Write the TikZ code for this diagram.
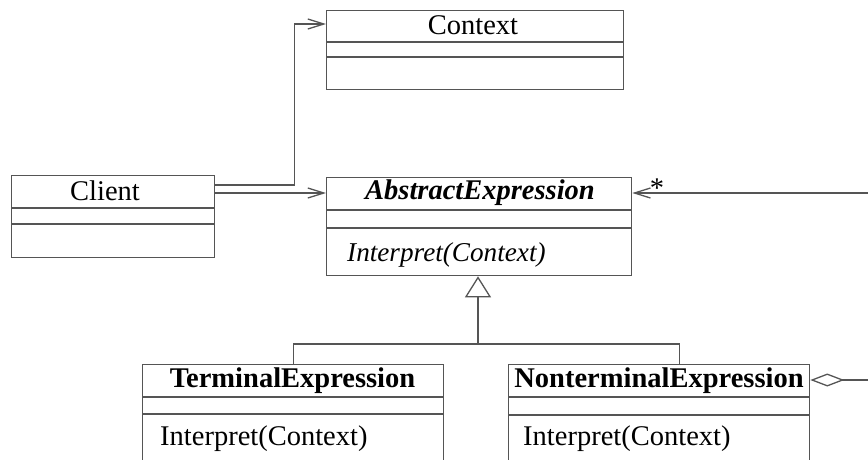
\documentclass[tikz,border=0pt]{standalone}
\usepackage{fontspec}
\setmainfont{Liberation Serif}
\usetikzlibrary{arrows.meta}
\definecolor{linegray}{HTML}{555555}
\begin{document}
\begin{tikzpicture}[x=1pt,y=-1pt,
  every node/.style={font=\fontsize{28.5}{31}\selectfont},
  classbox/.style={draw=linegray, line width=1.3pt, anchor=north west, inner sep=0pt},
  sep/.style={draw=linegray, line width=1.3pt},
  conn/.style={draw=linegray, line width=1.3pt},
  assoc/.style={conn, -{Straight Barb[length=16pt,width=10pt,line width=1.3pt]}},
  inherit/.style={conn, -{Triangle[open,length=21pt,width=26pt,line width=1.3pt]}},
  aggr/.style={conn, -{Diamond[open,length=34pt,width=13pt,line width=1.3pt]}},
  title/.style={anchor=center, inner sep=0pt},
  op/.style={anchor=base west, inner sep=0pt}
]
\useasboundingbox (0,0) rectangle (868,459);
\clip (0,0) rectangle (868,459);

% Context
\node[classbox, minimum width=297pt, minimum height=79pt] (ctx) at (326,10) {};
\draw[sep] (326,42) -- (623,42) (326,57) -- (623,57);
\node[title] (ctxT) at (473,25) {Context};

% Client
\node[classbox, minimum width=203pt, minimum height=82pt] (cli) at (11,175) {};
\draw[sep] (11,208) -- (214,208) (11,224) -- (214,224);
\node[title] (cliT) at (105,191) {Client};

% AbstractExpression
\node[classbox, minimum width=305pt, minimum height=98pt] (abs) at (326,177) {};
\draw[sep] (326,210) -- (631,210) (326,228) -- (631,228);
\node[title] (absT) at (480,193) {\bfseries\itshape AbstractExpression};
\node[op, font=\fontsize{27.2}{30}\selectfont\itshape] (absO) at (347,261) {Interpret(Context)};

% TerminalExpression
\node[classbox, minimum width=301pt, minimum height=120pt] (term) at (142,364) {};
\draw[sep] (142,397) -- (443,397) (142,414) -- (443,414);
\node[title] (termT) at (292.5,381) {\bfseries TerminalExpression};
\node[op] (termO) at (160,445) {Interpret(Context)};

% NonterminalExpression
\node[classbox, minimum width=301pt, minimum height=120pt] (nont) at (508,364) {};
\draw[sep] (508,397) -- (809,397) (508,415) -- (809,415);
\node[title] (nontT) at (659,381) {\bfseries NonterminalExpression};
\node[op] (nontO) at (523,445) {Interpret(Context)};

% Client -> Context
\draw[assoc] ([yshift=-10pt]cli.north east) -- ++(79,0) |- ([yshift=-14pt]ctx.north west);
% Client -> AbstractExpression
\draw[assoc] ([yshift=-18pt]cli.north east) -- ([yshift=-16pt]abs.north west);

% inheritance
\coordinate (junc) at (478,344);
\draw[conn] (term.north) |- (junc) -| ([xshift=20pt]nont.north);
\draw[inherit] (junc) -- (junc |- abs.south);

% aggregation (off the right edge)
\coordinate (redgeA) at (870,193);
\coordinate (redgeB) at (870,380);
\draw[assoc] (redgeA) -- ([yshift=-16pt]abs.north east);
\node[anchor=base, inner sep=0pt] (star) at (657,197) {*};
\draw[aggr] (redgeB) -- ([yshift=-16pt]nont.north east);
\end{tikzpicture}
\end{document}
